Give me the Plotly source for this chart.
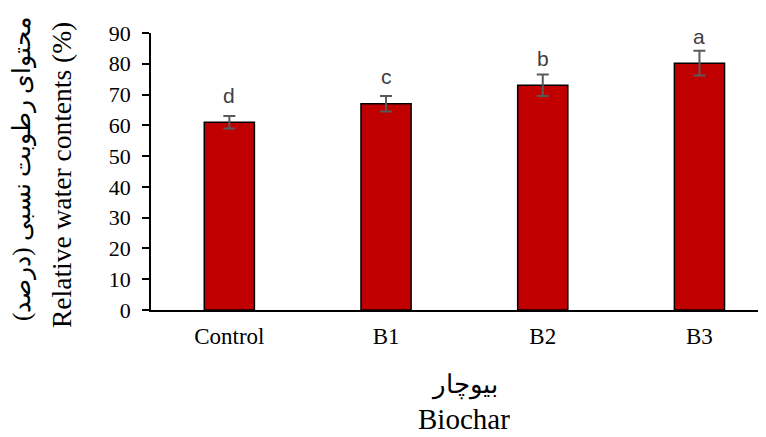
import plotly.graph_objects as go

categories = ["Control", "B1", "B2", "B3"]
values = [61.0, 67.0, 73.0, 80.2]
errors = [2.0, 2.5, 3.5, 4.0]
letters = ["d", "c", "b", "a"]
y_ticks = [0, 10, 20, 30, 40, 50, 60, 70, 80, 90]

OFF = 8  # page body margin in the browser
W, H = 766 - OFF, 437 - OFF
L, R, T = 151 - OFF, 0, 33 - OFF
B = H - (310 - OFF)
PW, PH = W - L - R, H - T - B
CAT_STEP = 156.7
LABEL_OFFSET = 5.7

def xp(px):
    return (px - OFF - L) / PW

def yp(py):
    return ((H - B) - (py - OFF)) / PH

serif = "Liberation Serif"

fig = go.Figure()
fig.add_trace(go.Bar(
    x=categories, y=values,
    width=0.32,
    marker=dict(color="#C00000", line=dict(color="black", width=1.5)),
    error_y=dict(type="data", array=errors, visible=True,
                 color="#595959", thickness=2, width=6),
))

for c, v, lt in zip(categories, values, letters):
    fig.add_annotation(x=c, y=v + LABEL_OFFSET, text=lt, showarrow=False,
                       yanchor="bottom", yshift=-4,
                       font=dict(family="Liberation Sans", size=21, color="#404040"))

fig.add_annotation(xref="paper", yref="paper", x=xp(61), y=yp(20),
                   text="Relative water contents (%)", textangle=-90, showarrow=False,
                   xanchor="center", yanchor="top",
                   font=dict(family=serif, size=27.5, color="black"))
fig.add_annotation(xref="paper", yref="paper", x=xp(22), y=yp(15),
                   text="محتوای رطوبت نسبی (درصد)", textangle=-90, showarrow=False,
                   xanchor="center", yanchor="top",
                   font=dict(family=serif, size=25, color="black"))
fig.add_annotation(xref="paper", yref="paper", x=xp(464), y=yp(385),
                   text="بیوچار", showarrow=False, xanchor="center", yanchor="middle",
                   font=dict(family=serif, size=26, color="black"))
fig.add_annotation(xref="paper", yref="paper", x=xp(464), y=yp(437),
                   text="Biochar", showarrow=False, xanchor="center", yanchor="bottom",
                   font=dict(family=serif, size=29, color="black"))

fig.update_layout(
    width=W, height=H,
    margin=dict(l=L, r=R, t=T, b=B, autoexpand=False),
    paper_bgcolor="white", plot_bgcolor="white",
    showlegend=False,
)
fig.update_xaxes(range=[-0.5, -0.5 + PW / CAT_STEP], showline=True, linecolor="black", linewidth=1.5,
                 ticks="", tickfont=dict(family=serif, size=23, color="black"),
                 ticklabelstandoff=5,
                 showgrid=False, zeroline=False)
fig.update_yaxes(range=[0, 90], tickvals=y_ticks, showline=True, linecolor="black", linewidth=1.5,
                 ticks="outside", ticklen=7, tickcolor="black", tickwidth=1.5,
                 ticklabelstandoff=7,
                 tickfont=dict(family=serif, size=22, color="black"),
                 showgrid=False, zeroline=False)

fig.write_html("out.html")
